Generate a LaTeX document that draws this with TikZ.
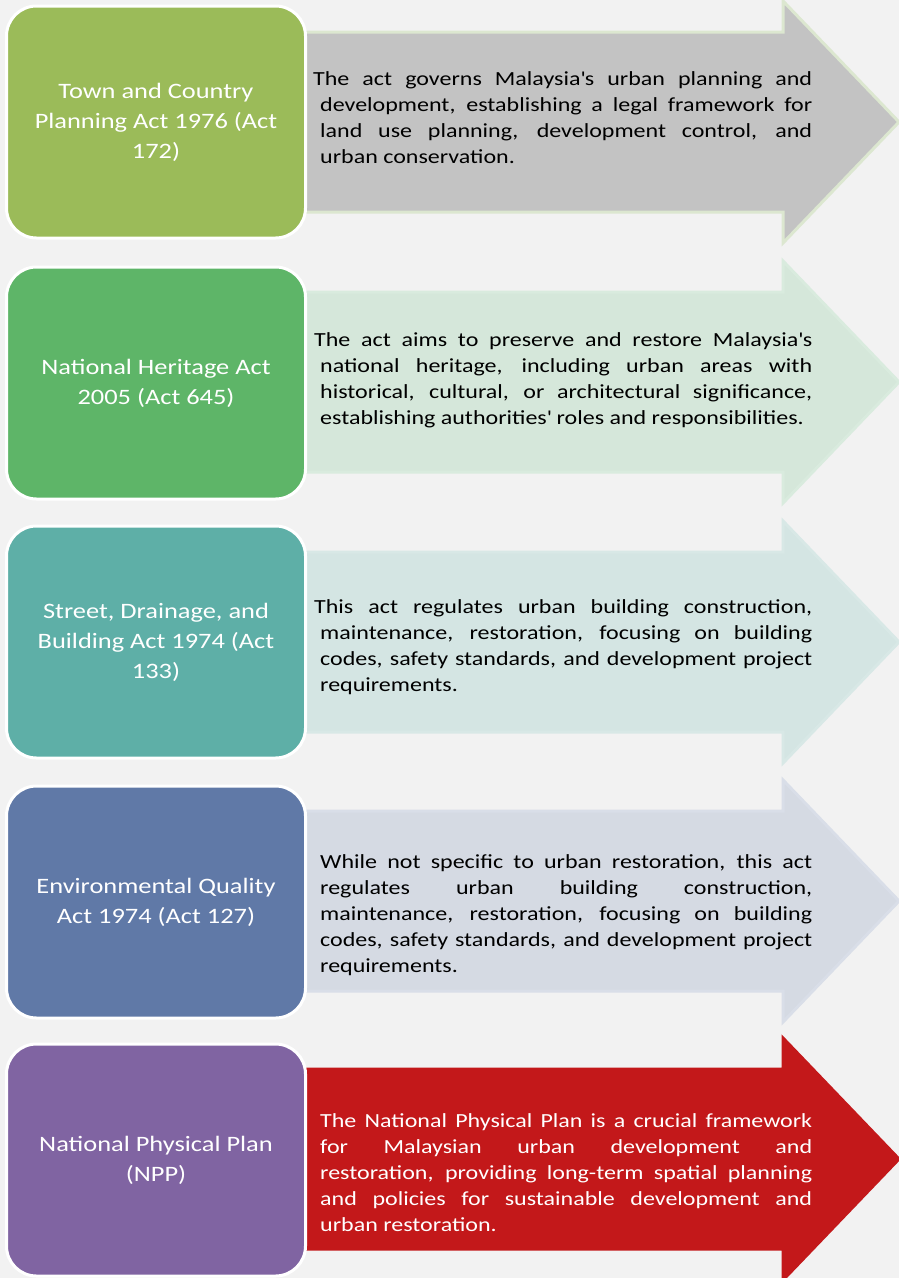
\documentclass[tikz,border=0pt]{standalone}
\usepackage{fontspec}
\setmainfont{Carlito}[FakeStretch=1.2]
\definecolor{pagebg}{HTML}{F2F2F2}
\definecolor{boxA}{HTML}{9BBB59}
\definecolor{boxB}{HTML}{5EB568}
\definecolor{boxC}{HTML}{5EAFA7}
\definecolor{boxD}{HTML}{6079A7}
\definecolor{boxE}{HTML}{8064A2}
\definecolor{arrA}{HTML}{C3C3C3}
\definecolor{arrAedge}{HTML}{DCE7D0}
\definecolor{arrB}{HTML}{D5E7DA}
\definecolor{arrBedge}{HTML}{D9EBDE}
\definecolor{arrC}{HTML}{D4E5E3}
\definecolor{arrCedge}{HTML}{D8E8E6}
\definecolor{arrD}{HTML}{D5DAE3}
\definecolor{arrDedge}{HTML}{D9DEE8}
\definecolor{arrE}{HTML}{C3181A}
% straight apostrophe
\newcommand\apos{\textquotesingle}
% block arrow behind each act box: #1 row centre, #2 fill, #3 outline
\newcommand\flowarrow[3]{%
  \draw[line width=3pt, draw=#3, fill=#2, line join=miter]
    (290,#1-90) -- (783,#1-90) -- (783,#1-121) -- (899,#1)
    -- (783,#1+121) -- (783,#1+90) -- (290,#1+90) -- cycle;}
\begin{document}
\begin{tikzpicture}[x=1pt, y=-1pt,
  actbox/.style={rounded corners=30pt, draw=white, line width=3pt,
    minimum width=299pt, minimum height=232pt, text=white, align=center,
    font=\fontsize{22}{30}\selectfont},
  desc/.style={anchor=west, inner sep=0pt, text width=492pt, align=justify,
    font=\fontsize{20}{26}\selectfont}]
  \fill[pagebg] (0,0) rectangle (899,1278);
  \useasboundingbox (0,0) rectangle (899,1278);

  % arrows
  \flowarrow{122}{arrA}{arrAedge}
  \flowarrow{382}{arrB}{arrBedge}
  \flowarrow{642}{arrC}{arrCedge}
  \flowarrow{901}{arrD}{arrDedge}
  \flowarrow{1159}{arrE}{arrE}

  % act boxes
  \node[actbox, fill=boxA] (tcpa) at (156,122) {Town and Country\\Planning Act 1976 (Act\\172)};
  \node[actbox, fill=boxB] (nha) at (156,383) {National Heritage Act\\2005 (Act 645)};
  \node[actbox, fill=boxC] (sdba) at (156,642) {Street, Drainage, and\\Building Act 1974 (Act\\133)};
  \node[actbox, fill=boxD] (eqa) at (156,902) {Environmental Quality\\Act 1974 (Act 127)};
  \node[actbox, fill=boxE] (npp) at (156,1160) {National Physical Plan\\(NPP)};

  % descriptions
  \node[desc] (tcpa-desc) at (320,118) {\hspace*{-7pt}The act governs Malaysia\apos s urban planning and\linebreak
    development, establishing a legal framework for\linebreak
    land use planning, development control, and\linebreak
    urban conservation.};
  \node[desc] (nha-desc) at (320,380) {\hspace*{-6pt}The act aims to preserve and restore Malaysia\apos s\linebreak
    national heritage, including urban areas with\linebreak
    historical, cultural, or architectural significance,\linebreak
    establishing authorities\apos{} roles and responsibilities.};
  \node[desc] (sdba-desc) at (320,647) {\hspace*{-6pt}This act regulates urban building construction,\linebreak
    maintenance, restoration, focusing on building\linebreak
    codes, safety standards, and development project\linebreak
    requirements.};
  \node[desc] (eqa-desc) at (320,915) {While not specific to urban restoration, this act\linebreak
    regulates urban building construction,\linebreak
    maintenance, restoration, focusing on building\linebreak
    codes, safety standards, and development project\linebreak
    requirements.};
  \node[desc, text=white] (npp-desc) at (320,1173) {The National Physical Plan is a crucial framework\linebreak
    for Malaysian urban development and\linebreak
    restoration, providing long-term spatial planning\linebreak
    and policies for sustainable development and\linebreak
    urban restoration.};
\end{tikzpicture}
\end{document}
